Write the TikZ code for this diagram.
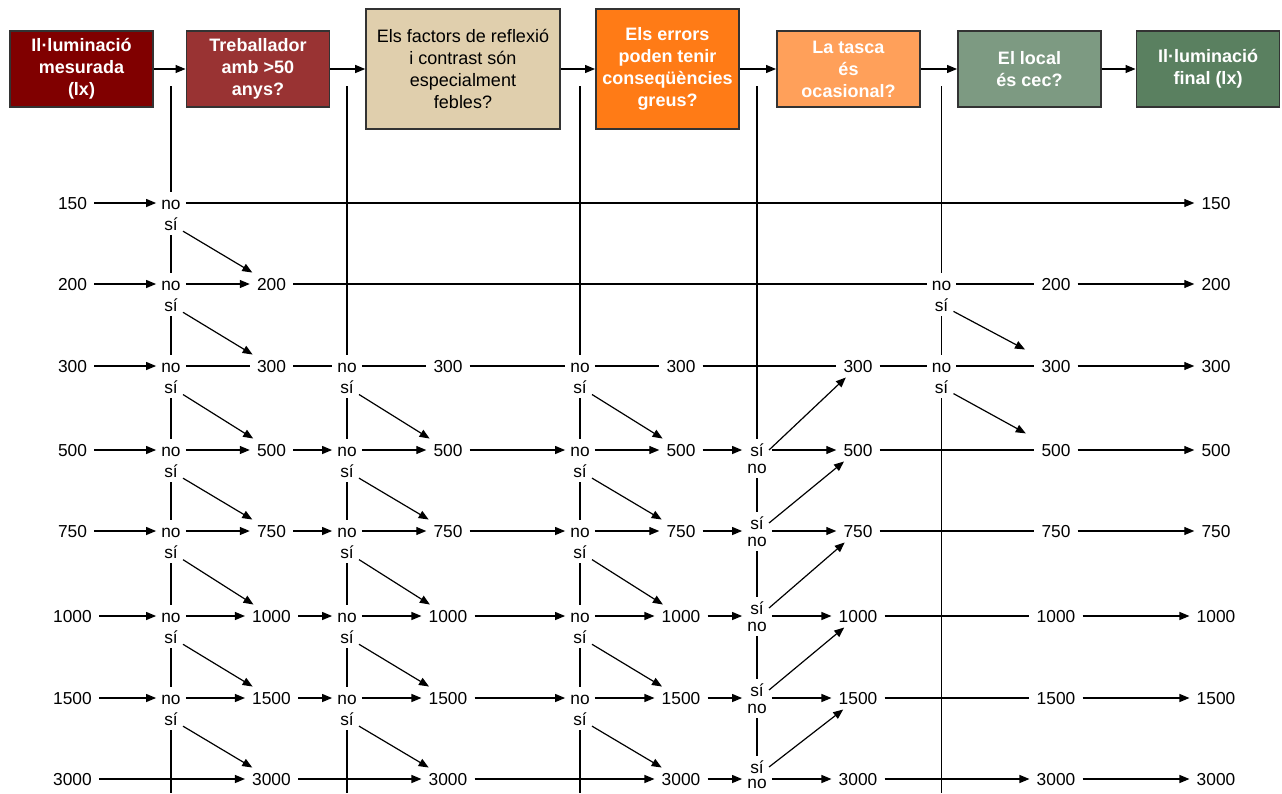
\documentclass[tikz,border=0pt]{standalone}
\usepackage{fontspec}
\setmainfont{Liberation Sans}
\usetikzlibrary{arrows.meta}

\definecolor{boxedge}{HTML}{333333}
\definecolor{cMeasured}{HTML}{800000}
\definecolor{cWorker}{HTML}{993333}
\definecolor{cContrast}{HTML}{E0CFAD}
\definecolor{cErrors}{HTML}{FF7B16}
\definecolor{cTask}{HTML}{FFA05A}
\definecolor{cBlind}{HTML}{7D9A82}
\definecolor{cFinal}{HTML}{5A8060}

\tikzset{
  qbox/.style={draw=boxedge, line width=1.2pt, align=center, inner sep=1pt,
    minimum width=107.5pt, minimum height=57pt, text=white,
    font=\bfseries\fontsize{13.5}{16.5}\selectfont},
  tallbox/.style={qbox, minimum height=90pt},
  val/.style={inner xsep=5pt, inner ysep=3.5pt, text height=9.3pt, text depth=0pt,
    font=\fontsize{13}{15}\selectfont},
  yn/.style={val, inner xsep=3.5pt},
  flow/.style={-{Triangle[length=7.5pt,width=6pt]}},
}

\begin{document}
\begin{tikzpicture}[x=0.75pt, y=-0.75pt, line width=0.9pt]
\useasboundingbox (0,0) rectangle (1282,793);

% question boxes
\node[qbox, fill=cMeasured] (measured) at (81.5,69) {Il·luminació\\mesurada\\(lx)};
\node[qbox, fill=cWorker] (worker) at (258,69) {Treballador\\amb >50\\anys?};
\node[tallbox, fill=cContrast, text=black, minimum width=145.5pt,
  font=\fontsize{13.5}{16.5}\selectfont] (contrast) at (463,69)
  {Els factors de reflexió\\i contrast són\\especialment\\febles?};
\node[tallbox, fill=cErrors] (errors) at (667.5,69) {Els errors\\poden tenir\\conseqüències\\greus?};
\node[qbox, fill=cTask] (task) at (848.5,69) {La tasca\\és\\ocasional?};
\node[qbox, fill=cBlind] (blind) at (1029.5,69) {El local\\és cec?};
\node[qbox, fill=cFinal] (final) at (1208,69) {Il·luminació\\final (lx)};

\draw[flow] (measured) -- (worker);
\draw[flow] (worker) -- (contrast);
\draw[flow] (contrast) -- (errors);
\draw[flow] (errors) -- (task);
\draw[flow] (task) -- (blind);
\draw[flow] (blind) -- (final);

% measured and final values
\foreach \v/\y in {150/203,200/284,300/366,500/450,750/531,1000/616,1500/698,3000/779}{
  \node[val] (in-\v) at (72.5,\y) {\v};
  \node[val] (fin-\v) at (1216,\y) {\v};
}

% worker over 50
\foreach \v/\y in {150/203,200/284,300/366,500/450,750/531,1000/616,1500/698}{
  \node[yn] (n1-\v) at (171,\y) {no};
  \node[yn] (s1-\v) at (171,\y+21) {sí};
}
\foreach \v/\y in {200/284,300/366,500/450,750/531,1000/616,1500/698,3000/779}
  \node[val] (o1-\v) at (271.5,\y) {\v};

% reflection and contrast, errors
\foreach \v/\y in {300/366,500/450,750/531,1000/616,1500/698}{
  \node[yn] (n2-\v) at (347,\y) {no};
  \node[yn] (s2-\v) at (347,\y+21) {sí};
  \node[yn] (n3-\v) at (580,\y) {no};
  \node[yn] (s3-\v) at (580,\y+21) {sí};
}
\foreach \v/\y in {300/366,500/450,750/531,1000/616,1500/698,3000/779}{
  \node[val] (o2-\v) at (448,\y) {\v};
  \node[val] (o3-\v) at (681,\y) {\v};
  \node[val] (o4-\v) at (858,\y) {\v};
}

% occasional task
\foreach \v/\y/\d/\g in {500/450/0/17,750/531/8/17,1000/616/8/17,1500/698/8/17,3000/779/12/15}{
  \node[yn] (s4-\v) at (757,\y-\d) {sí};
  \node[yn] (n4-\v) at (757,\y-\d+\g) {no};
}

% blind room
\foreach \v/\y in {200/284,300/366}{
  \node[yn] (n5-\v) at (941.5,\y) {no};
  \node[yn] (s5-\v) at (941.5,\y+21) {sí};
}
\foreach \v/\y in {200/284,300/366,500/450,750/531,1000/616,1500/698,3000/779}
  \node[val] (o5-\v) at (1056,\y) {\v};

% vertical guides
\foreach \x/\c in {171/1,347/2,580/3,757/4,941.5/5}{
  \coordinate (top\c) at (\x,86);
  \coordinate (bot\c) at (\x,793);
}
\draw (top1) -- (n1-150);
\foreach \a/\b in {150/200,200/300,300/500,500/750,750/1000,1000/1500}
  \draw (s1-\a) -- (n1-\b);
\draw (s1-1500) -- (bot1);
\draw (top2) -- (n2-300);
\draw (top3) -- (n3-300);
\foreach \a/\b in {300/500,500/750,750/1000,1000/1500}{
  \draw (s2-\a) -- (n2-\b);
  \draw (s3-\a) -- (n3-\b);
}
\draw (s2-1500) -- (bot2);
\draw (s3-1500) -- (bot3);
\draw (top4) -- (s4-500);
\foreach \a/\b in {500/750,750/1000,1000/1500,1500/3000}
  \draw (n4-\a) -- (s4-\b);
\draw (top5) -- (n5-200);
\draw (s5-200) -- (n5-300);
\draw (s5-300) -- (bot5);

% row 150
\draw[flow] (in-150) -- (n1-150);
\draw[flow] (n1-150) -- (fin-150);

% row 200
\draw[flow] (in-200) -- (n1-200);
\draw[flow] (n1-200) -- (o1-200);
\draw (o1-200) -- (n5-200) (n5-200) -- (o5-200);
\draw[flow] (o5-200) -- (fin-200);

% row 300
\draw[flow] (in-300) -- (n1-300);
\draw (n1-300) -- (o1-300) (o1-300) -- (n2-300) (n2-300) -- (o2-300)
  (o2-300) -- (n3-300) (n3-300) -- (o3-300) (o3-300) -- (o4-300)
  (o4-300) -- (n5-300) (n5-300) -- (o5-300);
\draw[flow] (o5-300) -- (fin-300);

% rows 500 to 1500
\foreach \v in {500,750,1000,1500}{
  \draw[flow] (in-\v) -- (n1-\v);
  \draw[flow] (n1-\v) -- (o1-\v);
  \draw[flow] (o1-\v) -- (n2-\v);
  \draw[flow] (n2-\v) -- (o2-\v);
  \draw[flow] (o2-\v) -- (n3-\v);
  \draw[flow] (n3-\v) -- (o3-\v);
  \draw[flow] (o3-\v) -- (n4-\v.west |- o3-\v);
  \draw[flow] (n4-\v.east |- o4-\v) -- (o4-\v);
  \draw (o4-\v) -- (o5-\v);
  \draw[flow] (o5-\v) -- (fin-\v);
}

% row 3000
\draw[flow] (in-3000) -- (o1-3000);
\draw[flow] (o1-3000) -- (o2-3000);
\draw[flow] (o2-3000) -- (o3-3000);
\draw[flow] (o3-3000) -- (n4-3000.west |- o3-3000);
\draw[flow] (n4-3000.east |- o4-3000) -- (o4-3000);
\draw[flow] (o4-3000) -- (o5-3000);
\draw[flow] (o5-3000) -- (fin-3000);

% yes branches
\foreach \a/\b in {150/200,200/300,300/500,500/750,750/1000,1000/1500,1500/3000}
  \draw[flow] (s1-\a) -- (o1-\b);
\foreach \a/\b in {300/500,500/750,750/1000,1000/1500,1500/3000}{
  \draw[flow] (s2-\a) -- (o2-\b);
  \draw[flow] (s3-\a) -- (o3-\b);
}
\foreach \a/\b in {500/300,750/500,1000/750,1500/1000,3000/1500}
  \draw[flow] (s4-\a.east) -- (o4-\b);
\draw[flow, shorten >=8pt] (s5-200) -- (o5-300);
\draw[flow, shorten >=8pt] (s5-300) -- (o5-500);
\end{tikzpicture}
\end{document}
